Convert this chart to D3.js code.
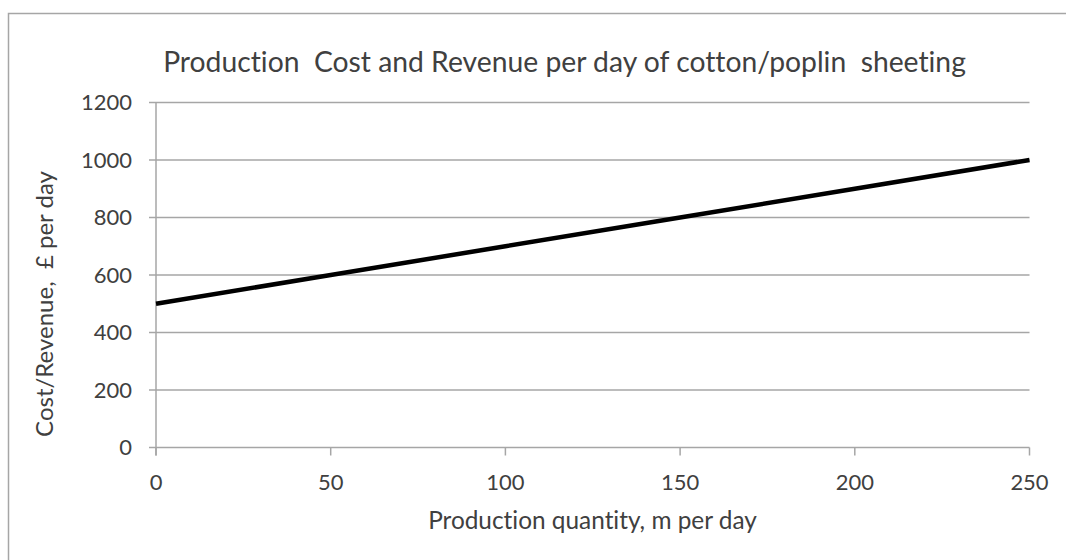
<!DOCTYPE html>
<html><head><meta charset="utf-8">
<script src="https://cdn.jsdelivr.net/npm/d3@7"></script>
<style>body{margin:0;background:#fff;}svg{display:block;}text{font-family:Lato,"Open Sans",sans-serif;fill:#404040;font-variant-ligatures:none;}</style>
</head><body><svg id="c" width="1066" height="560"></svg>
<script>
const quantity = [0, 50, 100, 150, 200, 250];
const costRevenue = [500, 600, 700, 800, 900, 1000];
const xTicks = [0, 50, 100, 150, 200, 250];
const yTicks = [0, 200, 400, 600, 800, 1000, 1200];
const title = "Production  Cost and Revenue per day of cotton/poplin  sheeting";
const xTitle = "Production quantity, m per day";
const yTitle = "Cost/Revenue,  £ per day";

const svg = d3.select("#c");
svg.append("path").attr("d", "M8.5,1000 V13.5 H1200")
  .attr("fill", "none").attr("stroke", "#a6a6a6").attr("stroke-width", 1.5);

const x = d3.scaleLinear().domain([0, 250]).range([156, 1029.5]);
const y = d3.scaleLinear().domain([0, 1200]).range([447.5, 102.5]);

function fit(t, w) {
  const n = t.node(); const cur = n.getComputedTextLength();
  const fs = parseFloat(t.attr("font-size"));
  const nf = fs * w / cur;
  t.attr("font-size", nf);
  return nf;
}

// gridlines
svg.append("g").selectAll("line").data(yTicks).join("line")
  .attr("x1", 149).attr("x2", x(250)).attr("y1", d => y(d)).attr("y2", d => y(d))
  .attr("stroke", "#a6a6a6").attr("stroke-width", 1.5);

// y axis line
svg.append("line").attr("x1", x(0)).attr("x2", x(0)).attr("y1", y(1200)).attr("y2", y(0) + 8)
  .attr("stroke", "#a6a6a6").attr("stroke-width", 1.5);
// x ticks
svg.append("g").selectAll("line").data(xTicks).join("line")
  .attr("x1", d => x(d)).attr("x2", d => x(d)).attr("y1", y(0)).attr("y2", y(0) + 8)
  .attr("stroke", "#a6a6a6").attr("stroke-width", 1.5);

// measure tick font size
const probe = svg.append("text").attr("font-size", 20).text("1200");
const tfs = fit(probe, 51);
probe.remove();

// y tick labels
svg.append("g").selectAll("text").data(yTicks).join("text")
  .attr("x", 132).attr("y", d => y(d)).attr("dy", "0.35em").attr("text-anchor", "end")
  .attr("font-size", tfs).text(d => d);
// x tick labels
svg.append("g").selectAll("text").data(xTicks).join("text")
  .attr("x", d => x(d)).attr("y", 482).attr("dy", "0.35em").attr("text-anchor", "middle")
  .attr("font-size", tfs).text(d => d);

// line
svg.append("path").datum(quantity.map((q, i) => [q, costRevenue[i]]))
  .attr("d", d3.line().x(d => x(d[0])).y(d => y(d[1])))
  .attr("fill", "none").attr("stroke", "#000").attr("stroke-width", 4.5);

const t = svg.append("text").attr("x", 564.5).attr("y", 62).attr("dy", "0.35em")
  .attr("text-anchor", "middle").attr("font-size", 24).style("white-space", "pre").text(title);
fit(t, 803);
const xt = svg.append("text").attr("x", 592.5).attr("y", 520).attr("dy", "0.35em")
  .attr("text-anchor", "middle").attr("font-size", 20).style("white-space", "pre").text(xTitle);
fit(xt, 329);
const ytt = svg.append("text").attr("transform", "translate(45,304) rotate(-90)").attr("dy", "0.35em")
  .attr("text-anchor", "middle").attr("font-size", 20).style("white-space", "pre").text(yTitle);
fit(ytt, 266);
</script></body></html>
